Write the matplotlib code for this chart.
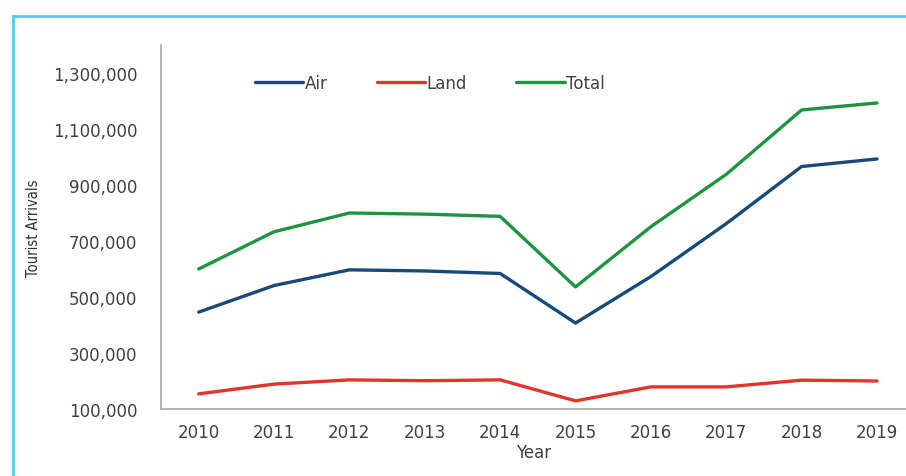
import matplotlib
matplotlib.use("Agg")
import matplotlib.pyplot as plt
from matplotlib.lines import Line2D
from matplotlib.ticker import FuncFormatter

years = [2010, 2011, 2012, 2013, 2014, 2015, 2016, 2017, 2018, 2019]
air = [446000, 541000, 597000, 593000, 584000, 407000, 573000, 762000, 966000, 993000]
land = [154000, 189000, 204000, 201000, 204000, 129000, 179000, 179000, 203000, 200000]
total = [600000, 733000, 800000, 796000, 788000, 536000, 751000, 938000, 1168000, 1193000]
yticks = [100000, 300000, 500000, 700000, 900000, 1100000, 1300000]

plt.rcParams['font.family'] = ['DejaVu Sans']

fig = plt.figure(figsize=(9.06, 4.77), dpi=100)
ax = fig.add_axes([161/906, 1-410/477, 1-161/906, (410-46)/477])

ax.plot(years, air, color='#174a78', lw=2.4, label='Air', solid_capstyle='round')
ax.plot(years, land, color='#e0352b', lw=2.4, label='Land', solid_capstyle='round')
ax.plot(years, total, color='#1d9442', lw=2.4, label='Total', solid_capstyle='round')

ax.set_xlim(2009.5, 2019.385)
ax.set_ylim(100000, 1400000)
ax.set_xticks(years)
ax.set_yticks(yticks)
ax.yaxis.set_major_formatter(FuncFormatter(lambda v, p: f"{int(v):,}"))
ax.tick_params(axis='both', length=0, labelsize=12, labelcolor='#404040')
ax.tick_params(axis='y', pad=17)
ax.tick_params(axis='x', pad=10)
for s in ['top', 'right']:
    ax.spines[s].set_visible(False)
for s in ['left', 'bottom']:
    ax.spines[s].set_color('#a8a8a8')
    ax.spines[s].set_linewidth(1.2)

ax.set_xlabel('Year', fontsize=12, color='#404040', labelpad=1.5)
fig.text(33/906, 1-228/477, 'Tourist Arrivals', rotation=90, ha='center', va='center',
         fontsize=10.5, color='#303030', family=['Liberation Sans Narrow', 'DejaVu Sans'],
         fontstretch='condensed')

leg = ax.legend(loc='upper left', bbox_to_anchor=(87/745, 1-22/364), ncol=3, frameon=False,
                fontsize=12, handlelength=2.9, handletextpad=0.1, columnspacing=2.95,
                borderaxespad=0)
for t in leg.get_texts():
    t.set_color('#404040')

c = '#5cc6f0'
fig.add_artist(Line2D([13/906, 13/906], [0, 1-17/477], transform=fig.transFigure, color=c, lw=2))
fig.add_artist(Line2D([13/906, 1], [1-17/477, 1-17/477], transform=fig.transFigure, color=c, lw=2))

fig.savefig('out.png', dpi=100)
